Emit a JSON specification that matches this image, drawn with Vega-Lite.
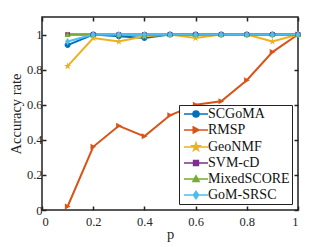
{
  "$schema": "https://vega.github.io/schema/vega-lite/v6.json",
  "autosize": {"type": "none"},
  "width": 256,
  "height": 193,
  "padding": {"left": 42, "top": 17, "right": 31, "bottom": 37},
  "background": "white",
  "config": {
    "view": {"stroke": "#222", "strokeWidth": 1.5},
    "font": "Liberation Serif, DejaVu Serif, serif",
    "axis": {
      "labelFont": "Liberation Serif, DejaVu Serif, serif", "titleFont": "Liberation Serif, DejaVu Serif, serif",
      "labelFontSize": 12.5, "titleFontSize": 14.5, "titleFontWeight": "normal",
      "labelColor": "#262626", "titleColor": "#262626",
      "grid": false, "domain": false, "tickColor": "#222", "tickWidth": 1.5, "tickSize": -4
    },
    "legend": {
      "labelFont": "Liberation Serif, DejaVu Serif, serif", "labelFontSize": 14, "labelColor": "#111"
    }
  },
  "data": {"values": [
    {"p": 0.1, "acc": 0.94, "m": "SCGoMA"}, {"p": 0.2, "acc": 1.0, "m": "SCGoMA"}, {"p": 0.3, "acc": 0.99, "m": "SCGoMA"}, {"p": 0.4, "acc": 0.98, "m": "SCGoMA"}, {"p": 0.5, "acc": 1.0, "m": "SCGoMA"}, {"p": 0.6, "acc": 1.0, "m": "SCGoMA"}, {"p": 0.7, "acc": 1.0, "m": "SCGoMA"}, {"p": 0.8, "acc": 1.0, "m": "SCGoMA"}, {"p": 0.9, "acc": 1.0, "m": "SCGoMA"}, {"p": 1.0, "acc": 1.0, "m": "SCGoMA"},
    {"p": 0.1, "acc": 0.02, "m": "RMSP"}, {"p": 0.2, "acc": 0.36, "m": "RMSP"}, {"p": 0.3, "acc": 0.48, "m": "RMSP"}, {"p": 0.4, "acc": 0.42, "m": "RMSP"}, {"p": 0.5, "acc": 0.54, "m": "RMSP"}, {"p": 0.6, "acc": 0.6, "m": "RMSP"}, {"p": 0.7, "acc": 0.62, "m": "RMSP"}, {"p": 0.8, "acc": 0.74, "m": "RMSP"}, {"p": 0.9, "acc": 0.9, "m": "RMSP"}, {"p": 1.0, "acc": 1.0, "m": "RMSP"},
    {"p": 0.1, "acc": 0.82, "m": "GeoNMF"}, {"p": 0.2, "acc": 0.98, "m": "GeoNMF"}, {"p": 0.3, "acc": 0.96, "m": "GeoNMF"}, {"p": 0.4, "acc": 0.99, "m": "GeoNMF"}, {"p": 0.5, "acc": 1.0, "m": "GeoNMF"}, {"p": 0.6, "acc": 0.98, "m": "GeoNMF"}, {"p": 0.7, "acc": 1.0, "m": "GeoNMF"}, {"p": 0.8, "acc": 1.0, "m": "GeoNMF"}, {"p": 0.9, "acc": 0.96, "m": "GeoNMF"}, {"p": 1.0, "acc": 1.0, "m": "GeoNMF"},
    {"p": 0.1, "acc": 1.0, "m": "SVM-cD"}, {"p": 0.2, "acc": 1.0, "m": "SVM-cD"}, {"p": 0.3, "acc": 1.0, "m": "SVM-cD"}, {"p": 0.4, "acc": 1.0, "m": "SVM-cD"}, {"p": 0.5, "acc": 1.0, "m": "SVM-cD"}, {"p": 0.6, "acc": 1.0, "m": "SVM-cD"}, {"p": 0.7, "acc": 1.0, "m": "SVM-cD"}, {"p": 0.8, "acc": 1.0, "m": "SVM-cD"}, {"p": 0.9, "acc": 1.0, "m": "SVM-cD"}, {"p": 1.0, "acc": 1.0, "m": "SVM-cD"},
    {"p": 0.1, "acc": 1.0, "m": "MixedSCORE"}, {"p": 0.2, "acc": 1.0, "m": "MixedSCORE"}, {"p": 0.3, "acc": 1.0, "m": "MixedSCORE"}, {"p": 0.4, "acc": 1.0, "m": "MixedSCORE"}, {"p": 0.5, "acc": 1.0, "m": "MixedSCORE"}, {"p": 0.6, "acc": 1.0, "m": "MixedSCORE"}, {"p": 0.7, "acc": 1.0, "m": "MixedSCORE"}, {"p": 0.8, "acc": 1.0, "m": "MixedSCORE"}, {"p": 0.9, "acc": 1.0, "m": "MixedSCORE"}, {"p": 1.0, "acc": 1.0, "m": "MixedSCORE"},
    {"p": 0.1, "acc": 0.96, "m": "GoM-SRSC"}, {"p": 0.2, "acc": 1.0, "m": "GoM-SRSC"}, {"p": 0.3, "acc": 1.0, "m": "GoM-SRSC"}, {"p": 0.4, "acc": 1.0, "m": "GoM-SRSC"}, {"p": 0.5, "acc": 1.0, "m": "GoM-SRSC"}, {"p": 0.6, "acc": 1.0, "m": "GoM-SRSC"}, {"p": 0.7, "acc": 1.0, "m": "GoM-SRSC"}, {"p": 0.8, "acc": 1.0, "m": "GoM-SRSC"}, {"p": 0.9, "acc": 1.0, "m": "GoM-SRSC"}, {"p": 1.0, "acc": 1.0, "m": "GoM-SRSC"}
  ]},
  "layer": [
    {
      "mark": {"type": "line", "strokeWidth": 2},
      "encoding": {
        "x": {"field": "p", "type": "quantitative", "scale": {"domain": [0, 1], "nice": false}, "axis": {"orient": "bottom", "values": [0, 0.2, 0.4, 0.6, 0.8, 1], "format": "~g", "title": "p", "labelPadding": 9, "titlePadding": 0}},
        "y": {"field": "acc", "type": "quantitative", "scale": {"domain": [0, 1.1], "nice": false}, "axis": {"orient": "left", "values": [0, 0.2, 0.4, 0.6, 0.8, 1], "format": "~g", "title": "Accuracy rate", "labelPadding": 4, "titlePadding": 3}},
        "color": {"field": "m", "type": "nominal", "sort": null,
          "scale": {"domain": ["SCGoMA", "RMSP", "GeoNMF", "SVM-cD", "MixedSCORE", "GoM-SRSC"], "range": ["#0072BD", "#D95319", "#EDB120", "#7E2F8E", "#77AC30", "#4DBEEE"]},
          "legend": {"title": null, "orient": "none", "legendX": 137, "legendY": 88, "strokeColor": "#222", "fillColor": "white", "padding": 2, "symbolOffset": 8, "labelOffset": 5, "rowPadding": 2, "symbolSize": 36, "symbolStrokeWidth": 2,
            "encode": {"symbols": {"update": {
              "stroke": {"scale": "color", "field": "value"},
              "fill": {"scale": "color", "field": "value"},
              "strokeWidth": {"value": 1.6},
              "shape": {"signal": "datum.value === 'SCGoMA' ? 'M-4,0H4M-1,0A1,1,0,1,0,1,0A1,1,0,1,0,-1,0Z' : datum.value === 'RMSP' ? 'M-4,0H4M-0.9,-1L1,0L-0.9,1Z' : datum.value === 'GeoNMF' ? 'M-4,0H4M0,-1.3L0.294,-0.405L1.236,-0.402L0.476,0.155L0.764,1.052L0,0.5L-0.764,1.052L-0.476,0.155L-1.236,-0.402L-0.294,-0.405Z' : datum.value === 'SVM-cD' ? 'M-4,0H4M-0.8,-0.8H0.8V0.8H-0.8Z' : datum.value === 'MixedSCORE' ? 'M-4,0H4M0,-1L1,0.8H-1Z' : 'M-4,0H4M0,-1.2L0.85,0L0,1.2L-0.85,0Z'"}
            }}}
          }
        }
      }
    },
    {
      "transform": [{"filter": "datum.m === 'SCGoMA'"}],
      "mark": {"type": "point", "filled": true, "opacity": 1, "size": 36, "color": "#0072BD", "shape": "M-1,0A1,1,0,1,0,1,0A1,1,0,1,0,-1,0Z"},
      "encoding": {"x": {"field": "p", "type": "quantitative", "axis": null}, "y": {"field": "acc", "type": "quantitative", "axis": null}}
    },
    {
      "transform": [{"filter": "datum.m === 'RMSP'"}],
      "mark": {"type": "point", "filled": true, "opacity": 1, "size": 36, "color": "#D95319", "shape": "M-0.9,-1L1,0L-0.9,1Z"},
      "encoding": {"x": {"field": "p", "type": "quantitative", "axis": null}, "y": {"field": "acc", "type": "quantitative", "axis": null}}
    },
    {
      "transform": [{"filter": "datum.m === 'GeoNMF'"}],
      "mark": {"type": "point", "filled": true, "opacity": 1, "size": 36, "color": "#EDB120", "shape": "M0,-1.3L0.294,-0.405L1.236,-0.402L0.476,0.155L0.764,1.052L0,0.5L-0.764,1.052L-0.476,0.155L-1.236,-0.402L-0.294,-0.405Z"},
      "encoding": {"x": {"field": "p", "type": "quantitative", "axis": null}, "y": {"field": "acc", "type": "quantitative", "axis": null}}
    },
    {
      "transform": [{"filter": "datum.m === 'SVM-cD'"}],
      "mark": {"type": "point", "filled": true, "opacity": 1, "size": 36, "color": "#7E2F8E", "shape": "M-0.8,-0.8H0.8V0.8H-0.8Z"},
      "encoding": {"x": {"field": "p", "type": "quantitative", "axis": null}, "y": {"field": "acc", "type": "quantitative", "axis": null}}
    },
    {
      "transform": [{"filter": "datum.m === 'MixedSCORE'"}],
      "mark": {"type": "point", "filled": true, "opacity": 1, "size": 36, "color": "#77AC30", "shape": "M0,-1L1,0.8H-1Z"},
      "encoding": {"x": {"field": "p", "type": "quantitative", "axis": null}, "y": {"field": "acc", "type": "quantitative", "axis": null}}
    },
    {
      "transform": [{"filter": "datum.m === 'GoM-SRSC'"}],
      "mark": {"type": "point", "filled": true, "opacity": 1, "size": 36, "color": "#4DBEEE", "shape": "M0,-1.2L0.85,0L0,1.2L-0.85,0Z"},
      "encoding": {"x": {"field": "p", "type": "quantitative", "axis": null}, "y": {"field": "acc", "type": "quantitative", "axis": null}}
    },
    {
      "mark": {"type": "point", "opacity": 0},
      "encoding": {
        "x": {"field": "p", "type": "quantitative", "axis": {"orient": "top", "values": [0, 0.2, 0.4, 0.6, 0.8, 1], "labels": false, "title": null}},
        "y": {"field": "acc", "type": "quantitative", "axis": {"orient": "right", "values": [0, 0.2, 0.4, 0.6, 0.8, 1], "labels": false, "title": null}}
      }
    }
  ],
  "resolve": {"axis": {"x": "independent", "y": "independent"}}
}
